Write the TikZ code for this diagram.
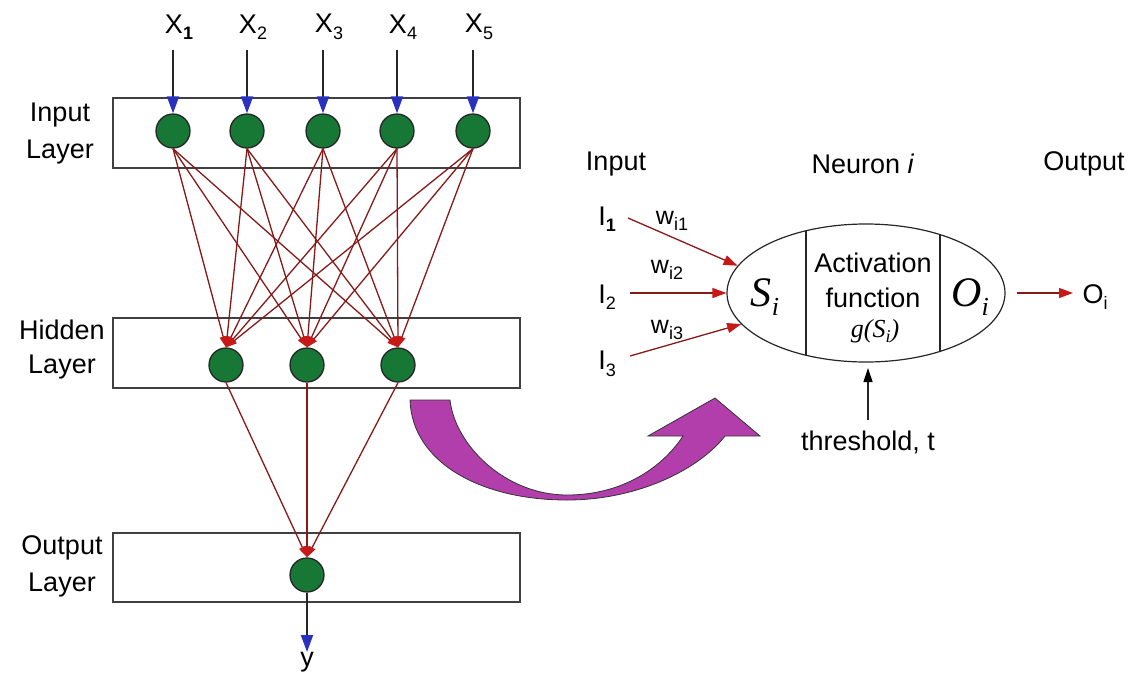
\documentclass[tikz,border=0pt]{standalone}
\usepackage{fontspec}
\setmainfont{Liberation Sans}
\newfontfamily\tms{Liberation Serif}
\usetikzlibrary{arrows.meta,shapes.geometric}
\definecolor{neurongreen}{RGB}{22,120,52}
\definecolor{linkred}{RGB}{135,25,25}
\definecolor{tipred}{RGB}{200,25,25}
\definecolor{tipblue}{RGB}{40,50,190}
\definecolor{bigpurple}{RGB}{178,62,172}
\newcommand\mysub[1]{\raisebox{-0.45ex}{\fontsize{18}{18}\selectfont #1}}
\newcommand\tsub[1]{\raisebox{-0.5ex}{\fontsize{26}{26}\selectfont #1}}
\begin{document}
\begin{tikzpicture}[x=1pt,y=-1pt,
  lbl/.style={font=\fontsize{27}{32}\selectfont, inner sep=0pt},
  wlbl/.style={font=\fontsize{25}{30}\selectfont, inner sep=0pt},
  unit/.style={circle, draw=black!85, line width=1.3pt, fill=neurongreen, minimum size=34pt, inner sep=0pt},
  layerbox/.style={draw=black!75, line width=1.2pt},
  link/.style={draw=linkred, line width=1.3pt, -{Triangle[length=11pt,width=7pt,color=tipred]}},
  inarrow/.style={draw=black!85, line width=2pt, -{Triangle[length=17pt,width=12pt,color=tipblue]}},
  narrow/.style={draw=linkred, line width=1.3pt, -{Triangle[length=14pt,width=10pt,color=tipred]}},
  thrarrow/.style={draw=black!85, line width=1.2pt, -{Triangle[length=14pt,width=9pt,color=black]}}
]
\useasboundingbox (0,0) rectangle (1135,683);

% layer boxes
\draw[layerbox] (113,98) rectangle (520,168);
\draw[layerbox] (113,318) rectangle (520,388);
\draw[layerbox] (113,533) rectangle (520,602);

% layer labels
\node[lbl] (inL1) at (60,115) {Input};
\node[lbl] (inL2) at (60,152) {Layer};
\node[lbl] (hiL1) at (62,330) {Hidden};
\node[lbl] (hiL2) at (62,367) {Layer};
\node[lbl] (ouL1) at (62,548) {Output};
\node[lbl] (ouL2) at (62,585) {Layer};

% units
\foreach \n/\x in {1/173,2/247,3/323,4/397,5/473}{
  \node[unit] (i\n) at (\x,131) {};
}
\foreach \n/\x in {1/226,2/307,3/398}{
  \node[unit] (h\n) at (\x,365) {};
}
\node[unit] (o) at (307,575) {};

% x labels and input arrows
\node[lbl] (x1) at (179,27) {X\mysub{\bfseries 1}};
\node[lbl] (x2) at (253,27) {X\mysub{2}};
\node[lbl] (x3) at (329,27) {X\mysub{3}};
\node[lbl] (x4) at (403,27) {X\mysub{4}};
\node[lbl] (x5) at (479,27) {X\mysub{5}};
\foreach \n/\x in {1/173,2/247,3/323,4/397,5/473}{
  \coordinate (xs\n) at (\x,50);
  \draw[inarrow] (xs\n) -- (i\n.north);
}

% links input -> hidden
\foreach \a in {1,...,5}{
  \foreach \b in {1,2,3}{
    \draw[link] (i\a.south) -- (h\b.north);
  }
}
% links hidden -> output
\foreach \b in {1,2,3}{
  \draw[link] (h\b.south) -- (o.north);
}
% output arrow
\node[lbl, anchor=north] (y) at (307,652) {y};
\draw[inarrow] (o.south) -- (y.north);

% purple curved arrow
\draw[black!80, line width=0.8pt, fill=bigpurple]
  (410,400) .. controls (412,462) and (480,500) .. (567,500)
  .. controls (640,500) and (700,468) .. (725,436)
  -- (760,436) -- (715,398) -- (648,436) -- (683,436)
  .. controls (662,468) and (622,495) .. (567,495)
  .. controls (505,495) and (455,445) .. (450,400) -- cycle;

% neuron model
\node[lbl] (tIn) at (616,164) {Input};
\node[lbl] (tNeu) at (863,164) {Neuron \textit{i}};
\node[lbl] (tOut) at (1084,164) {Output};

\node[draw=black!85, line width=1.2pt, ellipse, minimum width=278pt, minimum height=138pt, inner sep=0pt] (neuron) at (866,293) {};
\begin{scope}
  \clip (866,293) ellipse (139 and 69);
  \draw[black!85, line width=1.2pt] (806,200) -- (806,400);
  \draw[black!85, line width=1.2pt] (940,200) -- (940,400);
\end{scope}
\node[inner sep=0pt, font=\fontsize{42}{46}\selectfont\tms\itshape] (Si) at (765,297) {S\tsub{i}};
\node[lbl] (act1) at (873,263) {Activation};
\node[lbl] (act2) at (873,298) {function};
\node[inner sep=0pt, font=\fontsize{26}{30}\selectfont\tms\itshape] (gS) at (875,331) {g(S\raisebox{-0.45ex}{\fontsize{18}{18}\selectfont i})};
\node[inner sep=0pt, font=\fontsize{42}{46}\selectfont\tms\itshape] (Oi) at (970,297) {O\tsub{i}};

% inputs
\node[lbl] (I1) at (607,219) {I\mysub{\bfseries 1}};
\node[lbl] (I2) at (607,297) {I\mysub{2}};
\node[lbl] (I3) at (607,364) {I\mysub{3}};
\coordinate (I1s) at (628,218);
\coordinate (I2s) at (630,293);
\coordinate (I3s) at (630,356);
\draw[narrow] (I1s) -- (neuron.168);
\draw[narrow] (I2s) -- (neuron.west);
\draw[narrow] (I3s) -- (neuron.194);
\node[wlbl] (w1) at (672,221) {w\mysub{i1}};
\node[wlbl] (w2) at (667,270) {w\mysub{i2}};
\node[wlbl] (w3) at (667,330) {w\mysub{i3}};

% output
\coordinate (os) at (1017,293);
\coordinate (oe) at (1073,293);
\node[lbl] (Ol) at (1095,297) {O\mysub{i}};
\draw[narrow] (os) -- (oe);

% threshold
\node[lbl] (thr) at (868,442) {threshold, t};
\coordinate (thrTip) at (868,368);
\coordinate (thrS) at (868,420);
\draw[thrarrow] (thrS) -- (thrTip);
\end{tikzpicture}
\end{document}
